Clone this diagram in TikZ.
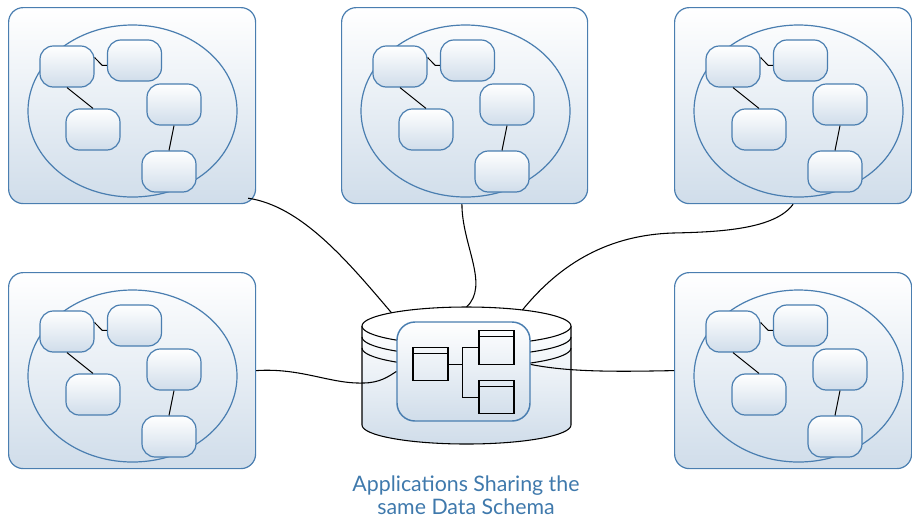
\documentclass[tikz,border=0pt]{standalone}
\usepackage{fontspec}
\setsansfont{Lato}
\usetikzlibrary{shapes.geometric}

\definecolor{edgeblue}{HTML}{4A7EB0}
\definecolor{shadeblue}{HTML}{D0DDEA}
\definecolor{captionblue}{HTML}{3F79AC}

\begin{document}
\begin{tikzpicture}[
    x=0.75pt, y=-0.75pt,
    appbox/.style={rectangle, draw=edgeblue, line width=0.9pt, rounded corners=11pt, top color=white, bottom color=shadeblue, minimum height=147pt, inner sep=0, anchor=north west},
    appring/.style={ellipse, draw=edgeblue, line width=0.9pt, minimum width=156.75pt, minimum height=129pt, inner sep=0},
    module/.style={rectangle, draw=edgeblue, line width=0.9pt, rounded corners=10pt, top color=white, bottom color=shadeblue, minimum width=40.5pt, minimum height=30.75pt, inner sep=0},
    link/.style={black, line width=0.75pt},
    dbshell/.style={black, line width=0.8pt},
    dbpanel/.style={rectangle, draw=edgeblue, line width=1.1pt, rounded corners=13.5pt, top color=white, bottom color=shadeblue, minimum width=99.75pt, minimum height=74.25pt, inner sep=0},
    dbtable/.style={rectangle, draw=black, line width=0.8pt, minimum width=26.25pt, minimum height=25pt, inner sep=0,
      path picture={\draw[line width=0.8pt] ([yshift=-4.5pt]path picture bounding box.north west) -- ([yshift=-4.5pt]path picture bounding box.north east);}},
    wire/.style={black, line width=0.8pt},
    caption/.style={font=\sffamily\fontsize{16}{17.5}\selectfont, text=captionblue, align=center}
]
\useasboundingbox (0,0) rectangle (912,519);

% applications
\foreach \n/\x/\y/\w in {1/8/7/247, 2/341/7/246, 3/674/7/237, 4/8/272/247, 5/674/272/237} {
  \begin{scope}[shift={(\x,\y)}]
    \node[appbox, minimum width=\w*0.75pt] (app\n) at (0,0) {};
    \node[appring] (ring\n) at (124.5,104) {};
    \node[module] (m\n-a) at (59,59.5) {};
    \node[module] (m\n-b) at (126.5,53.5) {};
    \node[module] (m\n-c) at (166,97.5) {};
    \node[module] (m\n-d) at (85,122.5) {};
    \node[module] (m\n-e) at (161,164.5) {};
    \draw[link] (m\n-a.18) -- ([xshift=-3.5pt]m\n-b.190) -- (m\n-b.190);
    \draw[link] (m\n-a.south) -- (m\n-d.north);
    \draw[link] (m\n-c.south) -- (m\n-e.north);
  \end{scope}
}

% shared database
\draw[dbshell, top color=white, bottom color=shadeblue] (362,326) -- (362,425)
  arc[start angle=180, end angle=0, x radius=104.5, y radius=19] -- (571,326);
\node[ellipse, draw, dbshell, fill=white, minimum width=156.75pt, minimum height=28.5pt, inner sep=0, outer sep=0] (dbtop) at (466.5,326) {};
\foreach \dy in {11,22}
  \draw[dbshell] (362,326+\dy) arc[start angle=180, end angle=0, x radius=104.5, y radius=19];

\node[dbpanel] (schema) at (463.5,371.5) {};
\node[dbtable] (tbl-a) at (430.5,364) {};
\node[dbtable] (tbl-b) at (496.5,347.5) {};
\node[dbtable] (tbl-c) at (496.5,397) {};
\draw[link] (tbl-a.east) -- ++(14,0) coordinate (fork) |- (tbl-b.west);
\draw[link] (fork) |- (tbl-c.west);

% connectors
\draw[wire] ([shift={(-8,-6)}]app1.south east) .. controls +(53,8) and +(-45,-53) .. (dbtop.170);
\draw[wire] ([xshift=-2pt]app2.south) .. controls +(0,41) and +(23.5,-22) .. (dbtop.north);
\draw[wire] (app3.south) .. controls +(-18,25) and +(47,-1) .. (673,233)
  .. controls +(-63,2) and +(39,-48) .. (dbtop.16);
\draw[wire] (app4.east) .. controls +(45,-3) and +(-33,1) .. (363,383)
  .. controls +(17,0) and +(-7,4.5) .. (schema.west);
\draw[wire] (schema.6) .. controls +(40,8) and +(-54,1) .. (app5.west);

\node[caption] (caption) at (466,495) {Applications Sharing the\\same Data Schema};
\end{tikzpicture}
\end{document}
